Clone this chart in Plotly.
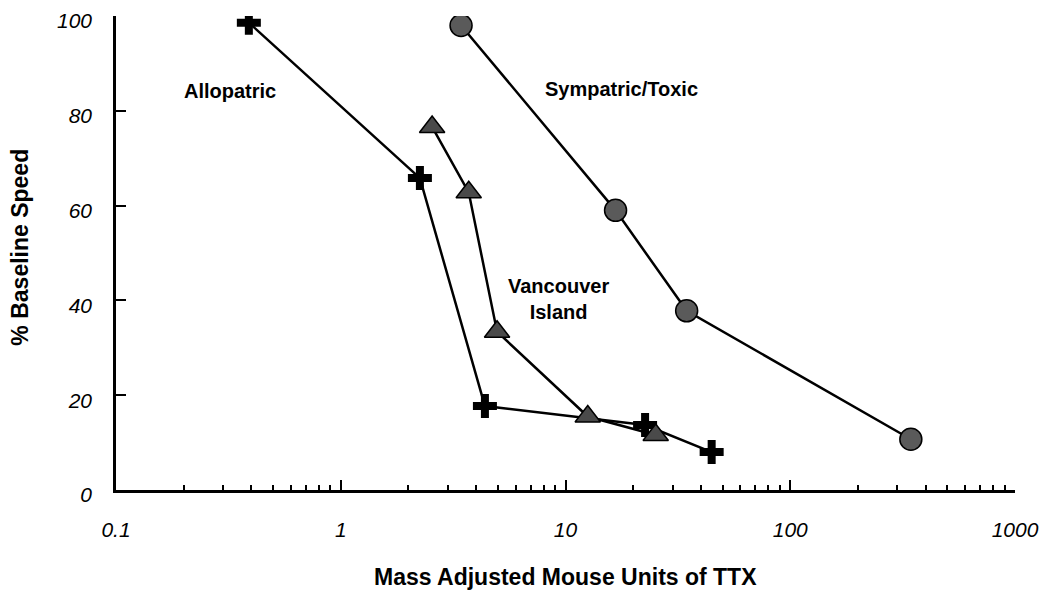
import math
import plotly.graph_objects as go

# Data
allo_x = [0.39, 2.25, 4.38, 22.6, 44.7]
allo_y = [98.6, 65.8, 17.7, 13.7, 8.0]

vanc_x = [2.55, 3.71, 4.96, 12.56, 25.2]
vanc_y = [76.6, 62.8, 33.4, 15.5, 11.6]

symp_x = [3.43, 16.7, 34.6, 344]
symp_y = [98.0, 59.0, 37.8, 10.7]

x_tickvals = [0.1, 1, 10, 100, 1000]
x_ticktext = ["0.1", "1", "10", "100", "1000"]
y_tickvals = [0, 20, 40, 60, 80, 100]

# label anchor points (data units)
labels = ["<b>Allopatric</b>", "<b>Sympatric/Toxic</b>", "<b>Vancouver<br>Island</b>"]
label_x = [0.321, 17.8, 9.35]
label_y = [84.2, 84.7, 40.3]

minor_vals = [m * 10 ** e for e in range(-1, 3) for m in range(2, 10)]

FONT = "Liberation Sans, Arial, Helvetica, sans-serif"

fig = go.Figure()
fig.add_trace(go.Scatter(
    x=allo_x, y=allo_y, mode="lines+markers", name="Allopatric",
    line=dict(color="black", width=2.5),
    marker=dict(symbol="cross", size=20, color="black", line=dict(width=0)),
))
fig.add_trace(go.Scatter(
    x=vanc_x, y=vanc_y, mode="lines+markers", name="Vancouver Island",
    line=dict(color="black", width=2.5),
    marker=dict(symbol="triangle-up", size=22, color="#4a4a4a",
                line=dict(color="black", width=1.5)),
))
fig.add_trace(go.Scatter(
    x=symp_x, y=symp_y, mode="lines+markers", name="Sympatric/Toxic",
    line=dict(color="black", width=2.5),
    marker=dict(symbol="circle", size=22, color="#5a5a5a",
                line=dict(color="black", width=1.5)),
))

ann_font = dict(family=FONT, size=20, color="black")
for t, lx, ly in zip(labels, label_x, label_y):
    fig.add_annotation(x=math.log10(lx), y=ly, xref="x", yref="y", text=t,
                       showarrow=False, font=ann_font, xanchor="center",
                       yanchor="middle")

# Axis titles
fig.add_annotation(x=0.5, y=-0.1835, xref="paper", yref="paper",
                   text="<b>Mass Adjusted Mouse Units of TTX</b>",
                   showarrow=False, xanchor="center", yanchor="middle",
                   font=dict(family=FONT, size=23, color="black"))
fig.add_annotation(x=-0.107, y=0.513, xref="paper", yref="paper",
                   text="<b>% Baseline Speed</b>", textangle=-90,
                   showarrow=False, xanchor="center", yanchor="middle",
                   font=dict(family=FONT, size=23, color="black"))

fig.update_layout(
    width=1043, height=582,
    margin=dict(l=108, r=36, t=8, b=100, autoexpand=False),
    plot_bgcolor="white", paper_bgcolor="white",
    showlegend=False,
    font=dict(family=FONT, color="black"),
)
fig.update_xaxes(
    type="log", range=[-1, 3], automargin=False,
    tickvals=x_tickvals, ticktext=x_ticktext,
    showline=True, linecolor="black", linewidth=2.5,
    ticks="inside", ticklen=10, tickwidth=2, tickcolor="black",
    minor=dict(tickvals=minor_vals, ticks="inside", ticklen=5, tickwidth=2, tickcolor="black"),
    showgrid=False, zeroline=False,
    tickfont=dict(family=FONT, size=21, color="black", style="italic"),
    ticklabelstandoff=19, ticklabeloverflow="allow",
)
fig.update_yaxes(
    range=[0, 100], tickvals=y_tickvals, automargin=False,
    showline=True, linecolor="black", linewidth=2.5,
    ticks="inside", ticklen=10, tickwidth=2, tickcolor="black",
    showgrid=False, zeroline=False,
    tickfont=dict(family=FONT, size=21, color="black", style="italic"),
    ticklabelstandoff=17, ticklabelshift=5, ticklabeloverflow="allow",
)

fig.write_html("out.html")
